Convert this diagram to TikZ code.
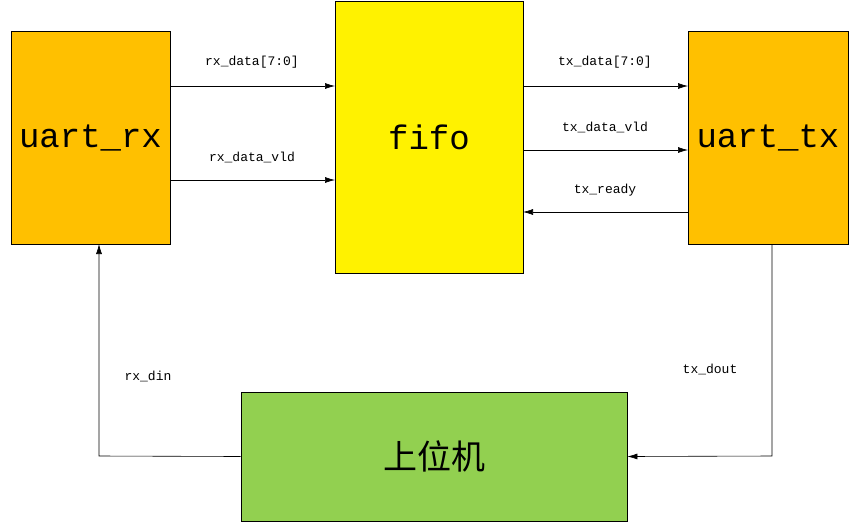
\documentclass[tikz,border=0pt]{standalone}
\usepackage{fontspec}
\setmonofont{Liberation Mono}
\newfontfamily\cjk{Noto Sans CJK SC}
\usetikzlibrary{arrows.meta}
\definecolor{orng}{HTML}{FFC000}
\definecolor{grn}{HTML}{92D050}
\begin{document}
\begin{tikzpicture}[x=1pt,y=-1pt,
 blk/.style={draw,line width=0.8pt,inner sep=0pt},
 sig/.style={-{Latex[length=10pt,width=6pt]},line width=0.6pt},
 lbl/.style={font=\ttfamily\fontsize{13}{15}\selectfont,inner sep=1pt},
 big/.style={font=\ttfamily\fontsize{34}{38}\selectfont}]
\useasboundingbox (0,0) rectangle (859,523);
\node[blk,fill=orng,minimum width=159pt,minimum height=213pt,big] (rx) at (90.5,137.5) {uart\_rx};
\node[blk,fill=yellow,minimum width=188pt,minimum height=272pt,big] (ff) at (429,137) {fifo};
\node[blk,fill=orng,minimum width=160pt,minimum height=213pt,big] (tx) at (768,137.5) {uart\_tx};
\node[blk,fill=grn,minimum width=386pt,minimum height=129pt,font=\cjk\fontsize{34}{38}\selectfont] (pc) at (434,456.5) {上位机};
\coordinate (a1) at (170,86); \coordinate (a2) at (335,86);
\coordinate (b1) at (170,180); \coordinate (b2) at (335,180);
\coordinate (c1) at (523,86); \coordinate (c2) at (688,86);
\coordinate (d1) at (523,150); \coordinate (d2) at (688,150);
\coordinate (e1) at (688,212); \coordinate (e2) at (523,212);
\draw[sig] (a1) -- (a2);
\draw[sig] (b1) -- (b2);
\draw[sig] (c1) -- (c2);
\draw[sig] (d1) -- (d2);
\draw[sig] (e1) -- (e2);
\draw[sig] (772,244) -- (772,456) -- (pc.east);
\draw[sig] (pc.west) -- (99,456) -- (99,244);
\node[lbl] (l1) at (252,62) {rx\_data[7:0]};
\node[lbl] (l2) at (252,157) {rx\_data\_vld};
\node[lbl] (l3) at (605,62) {tx\_data[7:0]};
\node[lbl] (l4) at (605,127) {tx\_data\_vld};
\node[lbl] (l5) at (605,190) {tx\_ready};
\node[lbl] (l6) at (710,369) {tx\_dout};
\node[lbl] (l7) at (148,376) {rx\_din};
\end{tikzpicture}
\end{document}
